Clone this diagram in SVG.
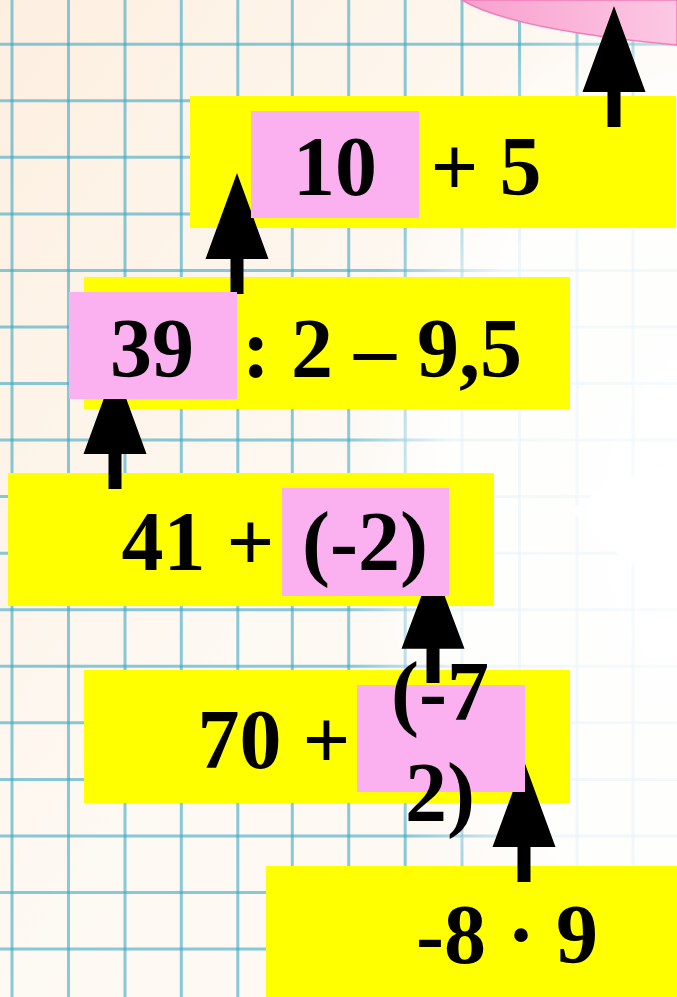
<svg xmlns="http://www.w3.org/2000/svg" width="677" height="997" viewBox="0 0 677 997">
<style>
.grid line{stroke:#3aa6c6;stroke-opacity:0.6;stroke-width:3}
.yb{fill:#ffff00}
.pb{fill:#fbb1f0}
.t{font-family:"Liberation Serif","Times New Roman",serif;font-weight:bold;font-size:84px;fill:#000;text-anchor:middle}
.arrow{fill:#000}
</style>
<defs>
<linearGradient id="bg" x1="0" y1="0" x2="1" y2="1">
<stop offset="0" stop-color="#fdefe0"/>
<stop offset="0.5" stop-color="#fdf9f3"/>
<stop offset="1" stop-color="#fdf8f2"/>
</linearGradient>
<radialGradient id="fade" cx="720" cy="520" r="1" gradientUnits="userSpaceOnUse" gradientTransform="translate(720 520) scale(380 560) translate(-720 -520)">
<stop offset="0" stop-color="#fff" stop-opacity="0.96"/>
<stop offset="0.72" stop-color="#fff" stop-opacity="0.86"/>
<stop offset="1" stop-color="#fff" stop-opacity="0"/>
</radialGradient>
<linearGradient id="pinkg" x1="0" y1="0" x2="1" y2="0">
<stop offset="0" stop-color="#f8a0cf"/>
<stop offset="1" stop-color="#fcc8e3"/>
</linearGradient>
<path id="arr" d="M0,0 L31.5,86 L6.5,86 L6.5,121 L-6.5,121 L-6.5,86 L-31.5,86 Z"/>
<clipPath id="nopink">
<path clip-rule="evenodd" d="M0,0H677V997H0Z M251,111H419V218H251Z M69,292H237V399H69Z M282,488H449V596H282Z M357,685H525V792H357Z"/>
</clipPath>
</defs>
<g id="background">
<rect x="0" y="0" width="677" height="997" fill="url(#bg)"/>
<g class="grid">
<line x1="12" y1="0" x2="12" y2="997"/>
<line x1="68.5" y1="0" x2="68.5" y2="997"/>
<line x1="125" y1="0" x2="125" y2="997"/>
<line x1="181.3" y1="0" x2="181.3" y2="997"/>
<line x1="237.8" y1="0" x2="237.8" y2="997"/>
<line x1="292.3" y1="0" x2="292.3" y2="997"/>
<line x1="348.7" y1="0" x2="348.7" y2="997"/>
<line x1="405.2" y1="0" x2="405.2" y2="997"/>
<line x1="462" y1="0" x2="462" y2="997"/>
<line x1="519.5" y1="0" x2="519.5" y2="997"/>
<line x1="577" y1="0" x2="577" y2="997"/>
<line x1="633" y1="0" x2="633" y2="997"/>
<line x1="0" y1="44.2" x2="677" y2="44.2"/>
<line x1="0" y1="100.8" x2="677" y2="100.8"/>
<line x1="0" y1="157.3" x2="677" y2="157.3"/>
<line x1="0" y1="213.9" x2="677" y2="213.9"/>
<line x1="0" y1="270.4" x2="677" y2="270.4"/>
<line x1="0" y1="327" x2="677" y2="327"/>
<line x1="0" y1="383.5" x2="677" y2="383.5"/>
<line x1="0" y1="440.1" x2="677" y2="440.1"/>
<line x1="0" y1="496.6" x2="677" y2="496.6"/>
<line x1="0" y1="553.2" x2="677" y2="553.2"/>
<line x1="0" y1="609.7" x2="677" y2="609.7"/>
<line x1="0" y1="666.3" x2="677" y2="666.3"/>
<line x1="0" y1="722.8" x2="677" y2="722.8"/>
<line x1="0" y1="779.4" x2="677" y2="779.4"/>
<line x1="0" y1="835.9" x2="677" y2="835.9"/>
<line x1="0" y1="892.5" x2="677" y2="892.5"/>
<line x1="0" y1="949" x2="677" y2="949"/>
</g>
<rect x="0" y="0" width="677" height="997" fill="url(#fade)"/>
<path d="M572,510 C600,486 640,472 677,466 L677,580 C640,572 602,548 572,510 Z" fill="#ffffff"/>
<path d="M462,0 C492,18 560,34 677,45 L677,0 Z" fill="url(#pinkg)" stroke="#f27cb8" stroke-width="1.5"/>
</g>
<g id="node1">
<rect class="yb" x="190" y="96" width="486" height="132"/>
<rect class="pb" x="251" y="111" width="168" height="107"/>
<text class="t" x="335" y="195">10</text>
<text class="t" x="486" y="195">+ 5</text>
</g>
<g id="node2">
<rect class="yb" x="84" y="277" width="486" height="132"/>
<rect class="pb" x="69" y="292" width="168" height="107"/>
<text class="t" x="152" y="377">39</text>
<text class="t" x="382" y="377">: 2 – 9,5</text>
</g>
<g id="node3">
<rect class="yb" x="8" y="473" width="486" height="133"/>
<rect class="pb" x="282" y="488" width="167" height="108"/>
<text class="t" x="198" y="570">41 +</text>
<text class="t" x="365" y="570">(-2)</text>
</g>
<g id="node4">
<rect class="yb" x="84" y="670" width="486" height="133"/>
<rect class="pb" x="357" y="685" width="168" height="107"/>
<text class="t" x="274" y="768">70 +</text>
<text class="t" x="440" y="720">(-7</text>
<text class="t" x="440" y="821">2)</text>
</g>
<g id="node5">
<rect class="yb" x="266" y="866" width="411" height="131"/>
<text class="t" x="507" y="963">-8 · 9</text>
</g>
<g id="connectors" class="arrow" clip-path="url(#nopink)">
<use href="#arr" transform="translate(614 6)"/>
<use href="#arr" transform="translate(237 173)"/>
<use href="#arr" transform="translate(115 368)"/>
<use href="#arr" transform="translate(433 565) scale(1 0.975)"/>
<use href="#arr" transform="translate(524 761)"/>
</g>
</svg>
